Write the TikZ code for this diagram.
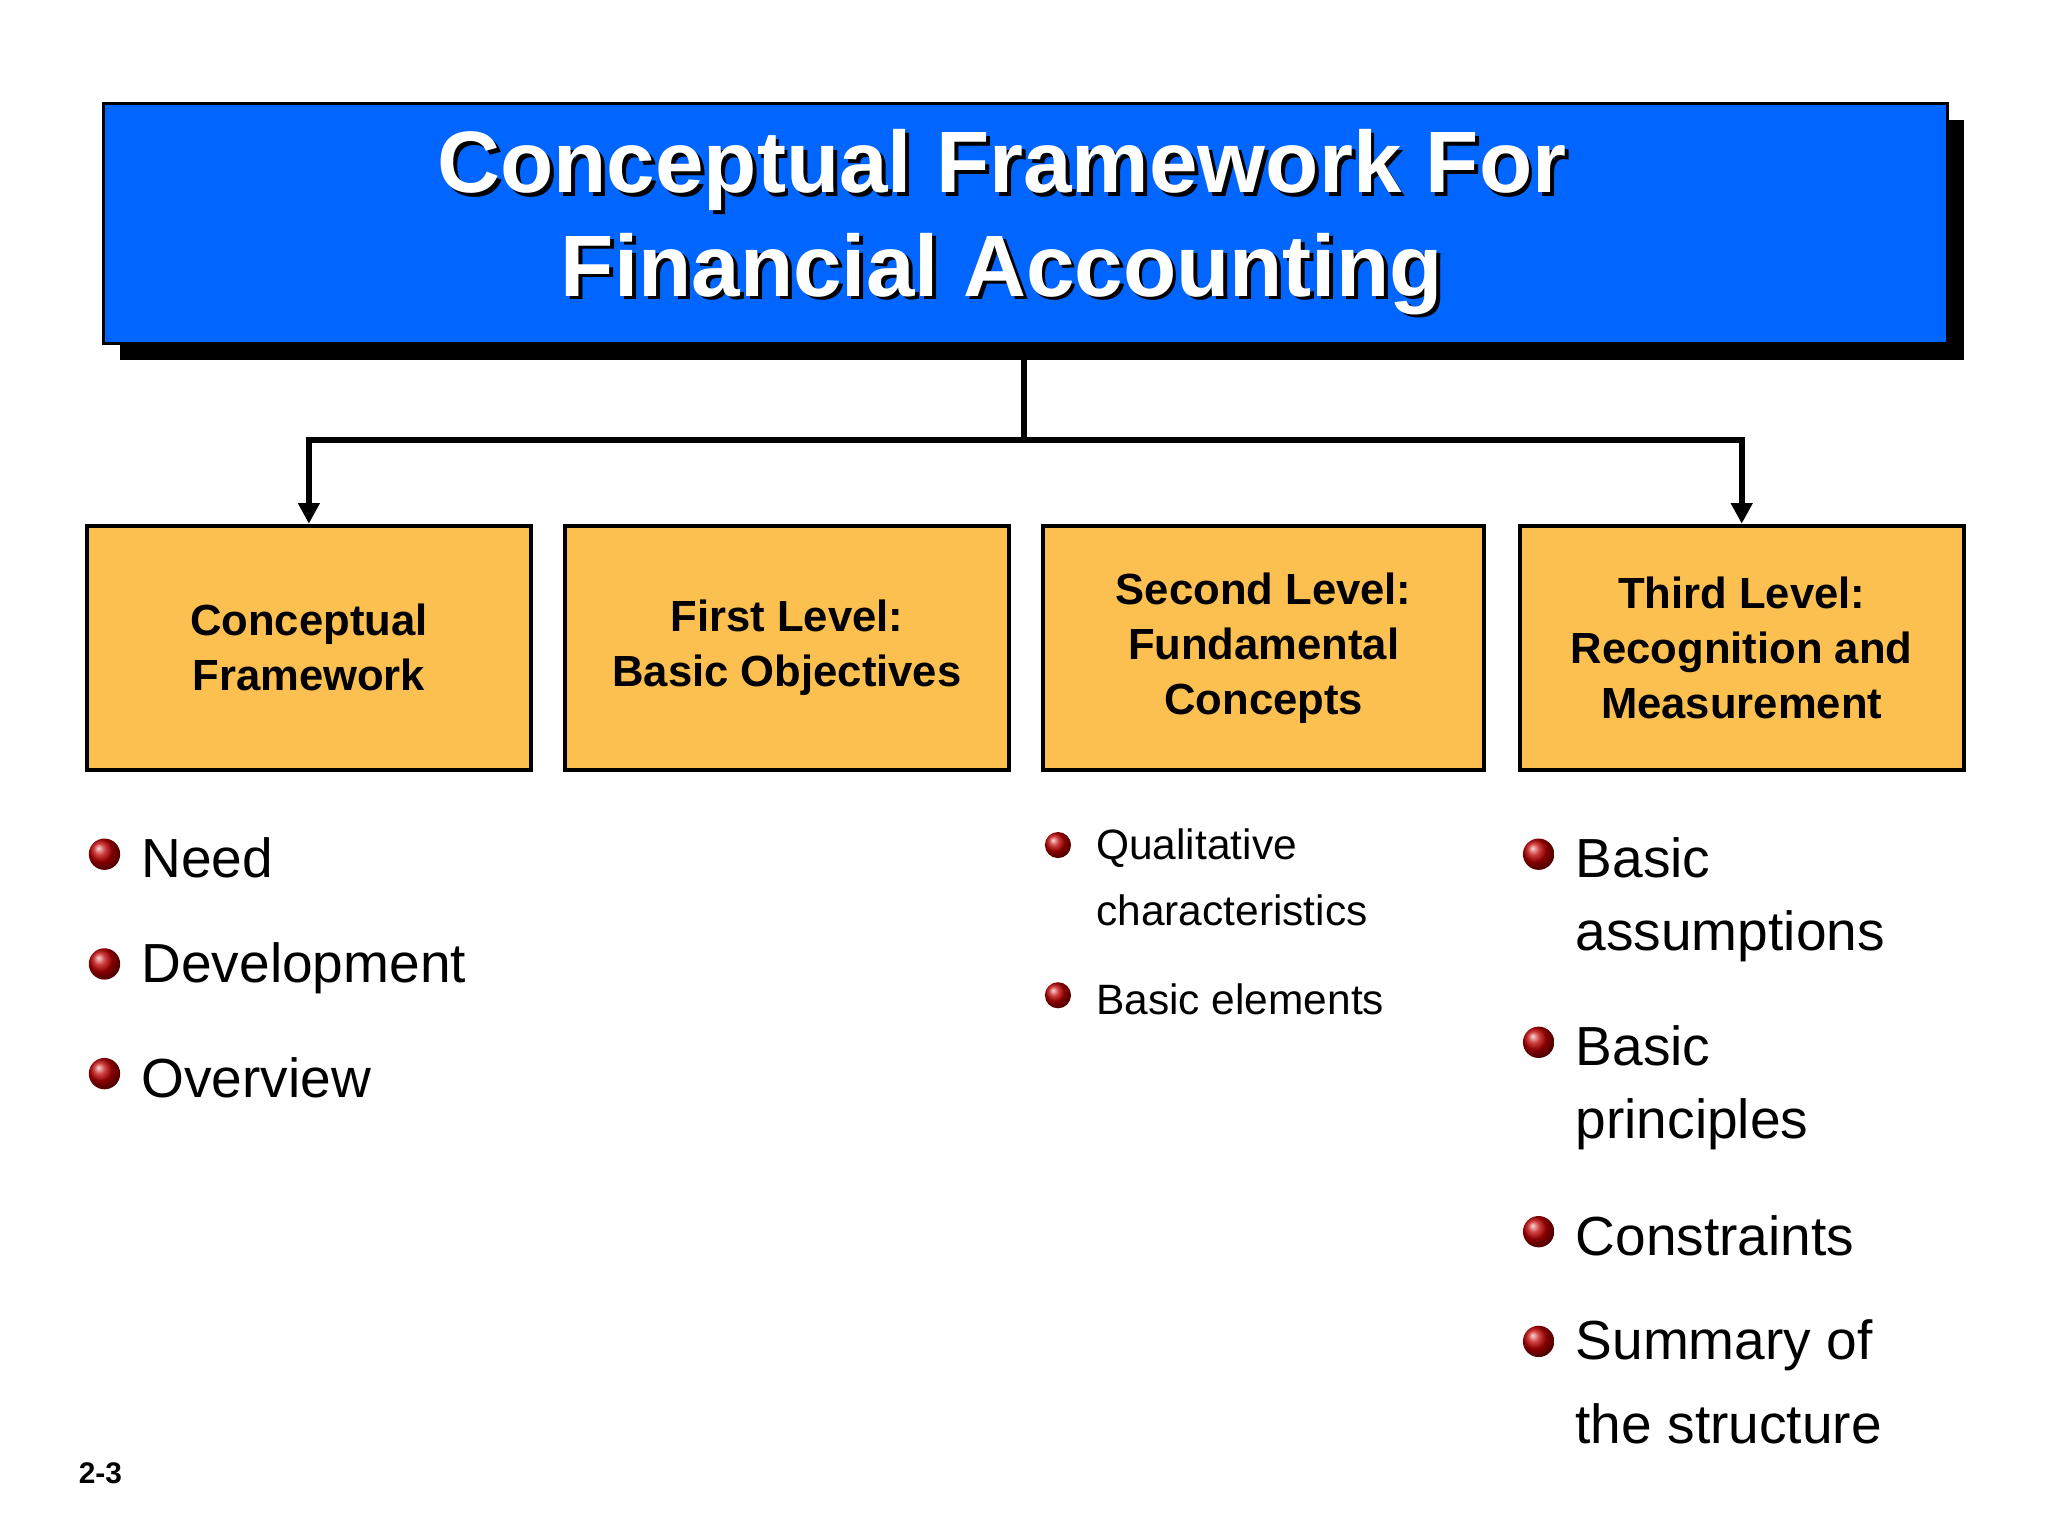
\documentclass[tikz,border=0pt]{standalone}
\usepackage{fontspec}
\setmainfont{Liberation Sans}
\usetikzlibrary{arrows.meta,shadings}
\definecolor{tblue}{HTML}{0066FF}
\definecolor{tgold}{HTML}{FBC04F}
\definecolor{bred}{HTML}{C00000}
\begin{document}
\begin{tikzpicture}[x=0.02cm,y=-0.02cm,
  lvl/.style={draw=black,line width=1.7pt,fill=tgold,minimum width=340*0.02cm,minimum height=187*0.02cm,anchor=north west,align=center,font=\bfseries\fontsize{19}{24}\selectfont,inner sep=0pt},
  big/.style={anchor=west,font=\fontsize{24}{34}\selectfont,inner sep=0pt},
  small/.style={anchor=west,font=\fontsize{18.5}{27}\selectfont,inner sep=0pt},
  ball/.style={circle,inner sep=0pt,minimum size=24*0.02cm,ball color=bred},
  sball/.style={circle,inner sep=0pt,minimum size=20*0.02cm,ball color=bred},
  conn/.style={line width=2.8pt},
  arr/.style={conn,-{Triangle[length=9pt,width=9pt]}}]
\useasboundingbox (0,0) rectangle (1568,1176);
\fill[white] (0,0) rectangle (1568,1176);
\fill[black] (92,92) rectangle (1504,276);
\node[draw=black,line width=1.2pt,fill=tblue,minimum width=1412*0.02cm,minimum height=184*0.02cm,anchor=north west,inner sep=0pt] (title) at (78,78) {};
\node[text=black,align=center,font=\bfseries\fontsize{38}{45}\selectfont] (tsh) at (770,173) {Conceptual Framework For\\Financial Accounting};
\node[text=white,align=center,font=\bfseries\fontsize{38}{45}\selectfont] (tt) at (767,170) {Conceptual Framework For\\Financial Accounting};
\node[lvl] (b1) at (65,401) {Conceptual\\Framework};
\node[lvl] (b2) at (431,401) {First Level:\\Basic Objectives};
\node[lvl,minimum width=338*0.02cm] (b3) at (797,401) {Second Level:\\Fundamental\\Concepts};
\node[lvl] (b4) at (1162,401) {Third Level:\\Recognition and\\Measurement};
\coordinate (j) at (784,337);
\draw[conn] (title.south -| j) -- (j);
\draw[arr] (j) -| (b1.north);
\draw[arr] (j) -| (b4.north);
% column 1
\node[ball] (c1) at (80,654) {}; \node[big] (t1) at (108,657) {Need};
\node[ball] (c2) at (80,738) {}; \node[big] (t2) at (108,741) {Development};
\node[ball] (c3) at (80,822) {}; \node[big] (t3) at (108,825) {Overview};
% column 3
\node[sball] (d1) at (810,647) {}; \node[small] (u1) at (839,649) {Qualitative};
\node[small] (u1b) at (839,697) {characteristics};
\node[sball] (d2) at (810,762) {}; \node[small] (u2) at (839,765) {Basic elements};
% column 4
\node[ball] (e1) at (1178,654) {}; \node[big] (v1) at (1206,657) {Basic};
\node[big] (v1b) at (1206,717) {assumptions};
\node[ball] (e2) at (1178,798) {}; \node[big] (v2) at (1206,801) {Basic};
\node[big] (v2b) at (1206,861) {principles};
\node[ball] (e3) at (1178,943) {}; \node[big] (v3) at (1206,946) {Constraints};
\node[ball] (e4) at (1178,1027) {}; \node[big] (v4) at (1206,1030) {Summary of};
\node[big] (v4b) at (1206,1090) {the structure};
\node[anchor=west,inner sep=0pt,font=\bfseries\fontsize{13}{15}\selectfont] (pg) at (60,1128) {2-3};
\end{tikzpicture}
\end{document}
